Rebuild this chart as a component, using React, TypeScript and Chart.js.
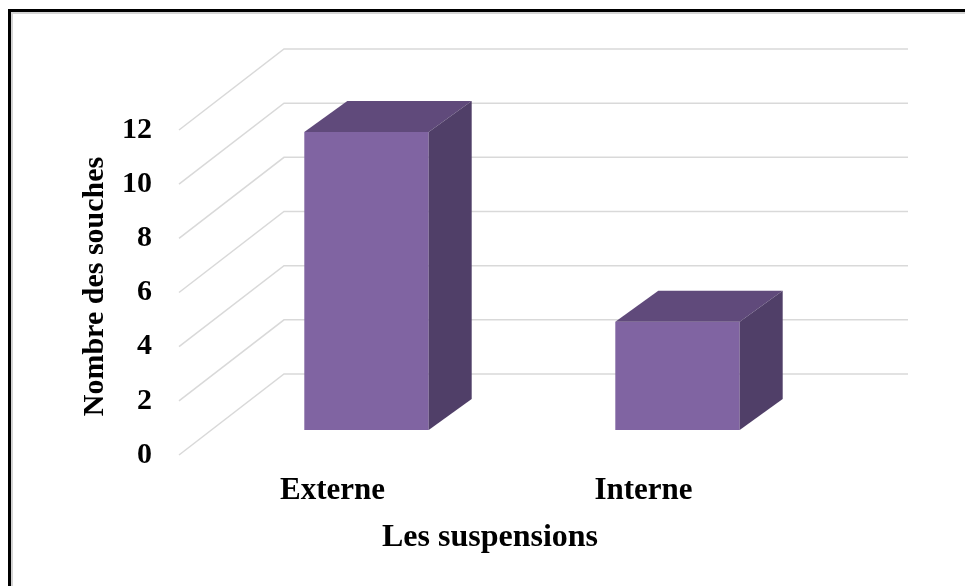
import React, { useEffect, useRef } from "react";
import { Chart, registerables } from "chart.js";

Chart.register(...registerables);

// Data
const categories = ["Externe", "Interne"];
const souches = [11, 4];
const yTickValues = [0, 2, 4, 6, 8, 10, 12];
const xAxisTitle = "Les suspensions";
const yAxisTitle = "Nombre des souches";

const FONT_FAMILY = "'Liberation Serif', 'Times New Roman', serif";
const FONT_SIZE = 30;
const X_FONT_SIZE = 31;
const X_TITLE_SIZE = 32;

// Oblique projection offsets (pixels) of the 3D box, relative to the bars' front plane
const FRONT = { dx: -32, dy: 25 };
const BACK = { dx: 73, dy: -56 };
const BAR_DEPTH = { dx: 43, dy: -31 };

const FRONT_COLOR = "#8064A2";
const TOP_COLOR = "#604A7B";
const SIDE_COLOR = "#503F68";
const GRID_COLOR = "#d9d9d9";

const threeD = {
  id: "threeD",
  beforeDraw(chart: any) {
    const { ctx, width, height } = chart;
    ctx.save();
    ctx.fillStyle = "#ffffff";
    ctx.fillRect(0, 0, width, height);
    // outer frame (left and top edges)
    ctx.fillStyle = "#d4d4d4";
    ctx.fillRect(11, 12, 2, height);
    ctx.fillRect(11, 12, width, 2);
    ctx.fillStyle = "#000000";
    ctx.fillRect(8, 9, 3, height);
    ctx.fillRect(8, 9, width, 3);
    ctx.restore();
  },
  beforeDatasetsDraw(chart: any) {
    const { ctx, chartArea, scales } = chart;
    const y = scales.y;
    ctx.save();
    ctx.strokeStyle = GRID_COLOR;
    ctx.lineWidth = 1.5;
    for (const t of y.ticks) {
      const py = y.getPixelForValue(t.value);
      ctx.beginPath();
      ctx.moveTo(chartArea.left + FRONT.dx, py + FRONT.dy);
      ctx.lineTo(chartArea.left + BACK.dx, py + BACK.dy);
      ctx.lineTo(chartArea.right + BACK.dx + 2, py + BACK.dy);
      ctx.stroke();
    }
    ctx.restore();
  },
  afterDatasetsDraw(chart: any) {
    const { ctx } = chart;
    const meta = chart.getDatasetMeta(0);
    ctx.save();
    for (const bar of meta.data) {
      const { x, y, base, width } = bar.getProps(["x", "y", "base", "width"], true);
      const l = x - width / 2;
      const r = x + width / 2;
      // top face
      ctx.fillStyle = TOP_COLOR;
      ctx.beginPath();
      ctx.moveTo(l, y);
      ctx.lineTo(l + BAR_DEPTH.dx, y + BAR_DEPTH.dy);
      ctx.lineTo(r + BAR_DEPTH.dx, y + BAR_DEPTH.dy);
      ctx.lineTo(r, y);
      ctx.closePath();
      ctx.fill();
      // side face
      ctx.fillStyle = SIDE_COLOR;
      ctx.beginPath();
      ctx.moveTo(r, y);
      ctx.lineTo(r + BAR_DEPTH.dx, y + BAR_DEPTH.dy);
      ctx.lineTo(r + BAR_DEPTH.dx, base + BAR_DEPTH.dy);
      ctx.lineTo(r, base);
      ctx.closePath();
      ctx.fill();
    }
    ctx.restore();
  },
  afterDraw(chart: any) {
    const { ctx, chartArea, scales } = chart;
    const y = scales.y;
    ctx.save();
    ctx.fillStyle = "#000000";
    ctx.textAlign = "center";
    ctx.textBaseline = "alphabetic";
    // x-axis title, centred under the floor's front edge
    ctx.font = `bold ${X_TITLE_SIZE}px ${FONT_FAMILY}`;
    ctx.fillText(xAxisTitle, (chartArea.left + chartArea.right) / 2 + FRONT.dx, 546);
    // y-axis title, rotated along the wall's front edge
    ctx.font = `bold ${FONT_SIZE}px ${FONT_FAMILY}`;
    const yMid = (y.getPixelForValue(y.min) + y.getPixelForValue(y.max)) / 2 + FRONT.dy - 6;
    ctx.translate(103, yMid);
    ctx.rotate(-Math.PI / 2);
    ctx.fillText(yAxisTitle, 0, 0);
    ctx.restore();
  },
};

export default function App() {
  const canvasRef = useRef<HTMLCanvasElement | null>(null);

  useEffect(() => {
    if (!canvasRef.current) return;
    const chart = new Chart(canvasRef.current, {
      type: "bar",
      data: {
        labels: categories,
        datasets: [
          {
            label: yAxisTitle,
            data: souches,
            backgroundColor: FRONT_COLOR,
            borderWidth: 0,
            categoryPercentage: 1,
            barPercentage: 0.4,
          },
        ],
      },
      options: {
        responsive: false,
        animation: false,
        events: [],
        layout: { padding: { top: 105, right: 132, left: 0, bottom: 0 } },
        plugins: {
          legend: { display: false },
          tooltip: { enabled: false },
        },
        scales: {
          x: {
            grid: { display: false, drawTicks: false },
            border: { display: false },
            ticks: {
              font: { family: FONT_FAMILY, size: X_FONT_SIZE, weight: "bold" },
              color: "#000000",
              padding: 42,
              labelOffset: FRONT.dx - 2,
              maxRotation: 0,
            },
            afterFit: (s: any) => {
              s.height = 156;
            },
          },
          y: {
            min: 0,
            max: 12,
            grid: { display: false, drawTicks: false },
            border: { display: false },
            afterBuildTicks: (s: any) => {
              s.ticks = yTickValues.map((v) => ({ value: v }));
            },
            ticks: {
              font: { family: FONT_FAMILY, size: FONT_SIZE, weight: "bold" },
              color: "#000000",
              padding: 59,
              labelOffset: FRONT.dy,
            },
            afterFit: (s: any) => {
              s.width = 211;
            },
          },
        },
      },
      plugins: [threeD],
    });
    return () => chart.destroy();
  }, []);

  return (
    <div style={{ position: "fixed", left: 0, top: 0, width: 965, height: 586, background: "#fff" }}>
      <canvas ref={canvasRef} width={965} height={586} style={{ display: "block" }} />
    </div>
  );
}
